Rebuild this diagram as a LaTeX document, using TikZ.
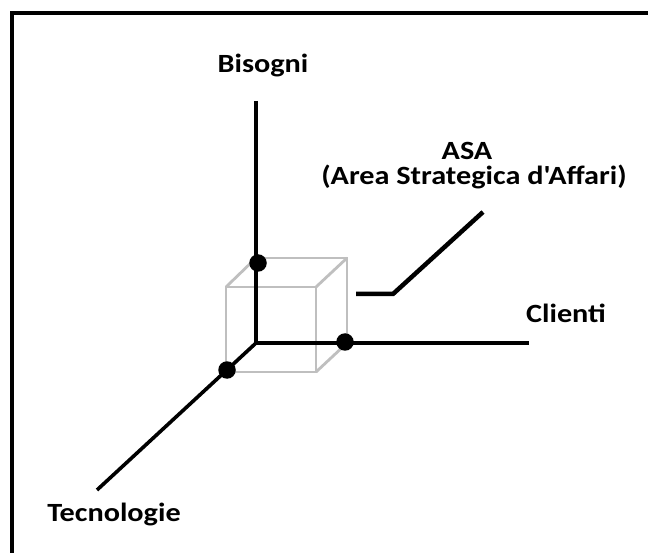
\documentclass[tikz,border=0pt]{standalone}
\usepackage{fontspec}
\setmainfont{Carlito}
\newfontfamily\lblfamily[FakeStretch=1.15]{Carlito}
\usepackage{tikz}
\newcommand{\lblfont}{\lblfamily\fontsize{26.3}{22}\selectfont\bfseries}
\tikzstyle{axis}=[line width=3.6pt, draw=black]
\tikzstyle{edge}=[line width=2.8pt, draw=black!25]
\tikzstyle{dot}=[circle, fill=black, inner sep=0pt, minimum size=17.5pt]
\tikzstyle{lbl}=[font=\lblfont, inner sep=0pt, anchor=base]

\begin{document}
\begin{tikzpicture}[x=1pt, y=-1pt]
  \useasboundingbox (0,0) rectangle (648,553);
  \fill[white] (-5,-5) rectangle (660,560);
  % frame, only top and left edges fall in the page
  \draw[line width=3.8pt] (11.7,560) |- (660,13);

  \coordinate (o) at (256,343);
  \coordinate (bt) at (256,101);
  \coordinate (cl) at (529,343);
  \coordinate (te) at (97,490);

  % cube
  \coordinate (b1) at (347,343);
  \coordinate (b2) at (347,258);
  \coordinate (b3) at (256,258);
  \coordinate (f0) at (226,372);
  \coordinate (f1) at (316,372);
  \coordinate (f2) at (316,287);
  \coordinate (f3) at (226,287);
  \draw[edge] (o) -- (b1) -- (b2) -- (b3) -- cycle;
  \draw[edge] (f0) -- (f1) -- (f2) -- (f3) -- cycle;
  \draw[edge] (o) -- (f0) (b1) -- (f1) (b2) -- (f2) (b3) -- (f3);

  % axes
  \draw[axis] (bt) -- (o) -- (cl);
  \draw[axis] (o) -- (te);

  \node[dot] at (258,263) (d1) {};
  \node[dot] at (345,342) (d2) {};
  \node[dot] at (227,370) (d3) {};

  % labels
  \node[lbl] at (263,73) (bis) {Bisogni};
  \node[lbl] at (566,323) (cli) {Clienti};
  \node[lbl] at (114,521) (tec) {Tecnologie};
  \node[lbl] at (467,160) (asa) {ASA};
  \node[lbl] at (474,185) (asad) {(Area Strategica d'Affari)};

  \coordinate (a0) at (356,294);
  \coordinate (a1) at (393,294);
  \coordinate (a2) at (483,212);
  \draw[line width=4.5pt] (a0) -- (a1) -- (a2);
\end{tikzpicture}
\end{document}
